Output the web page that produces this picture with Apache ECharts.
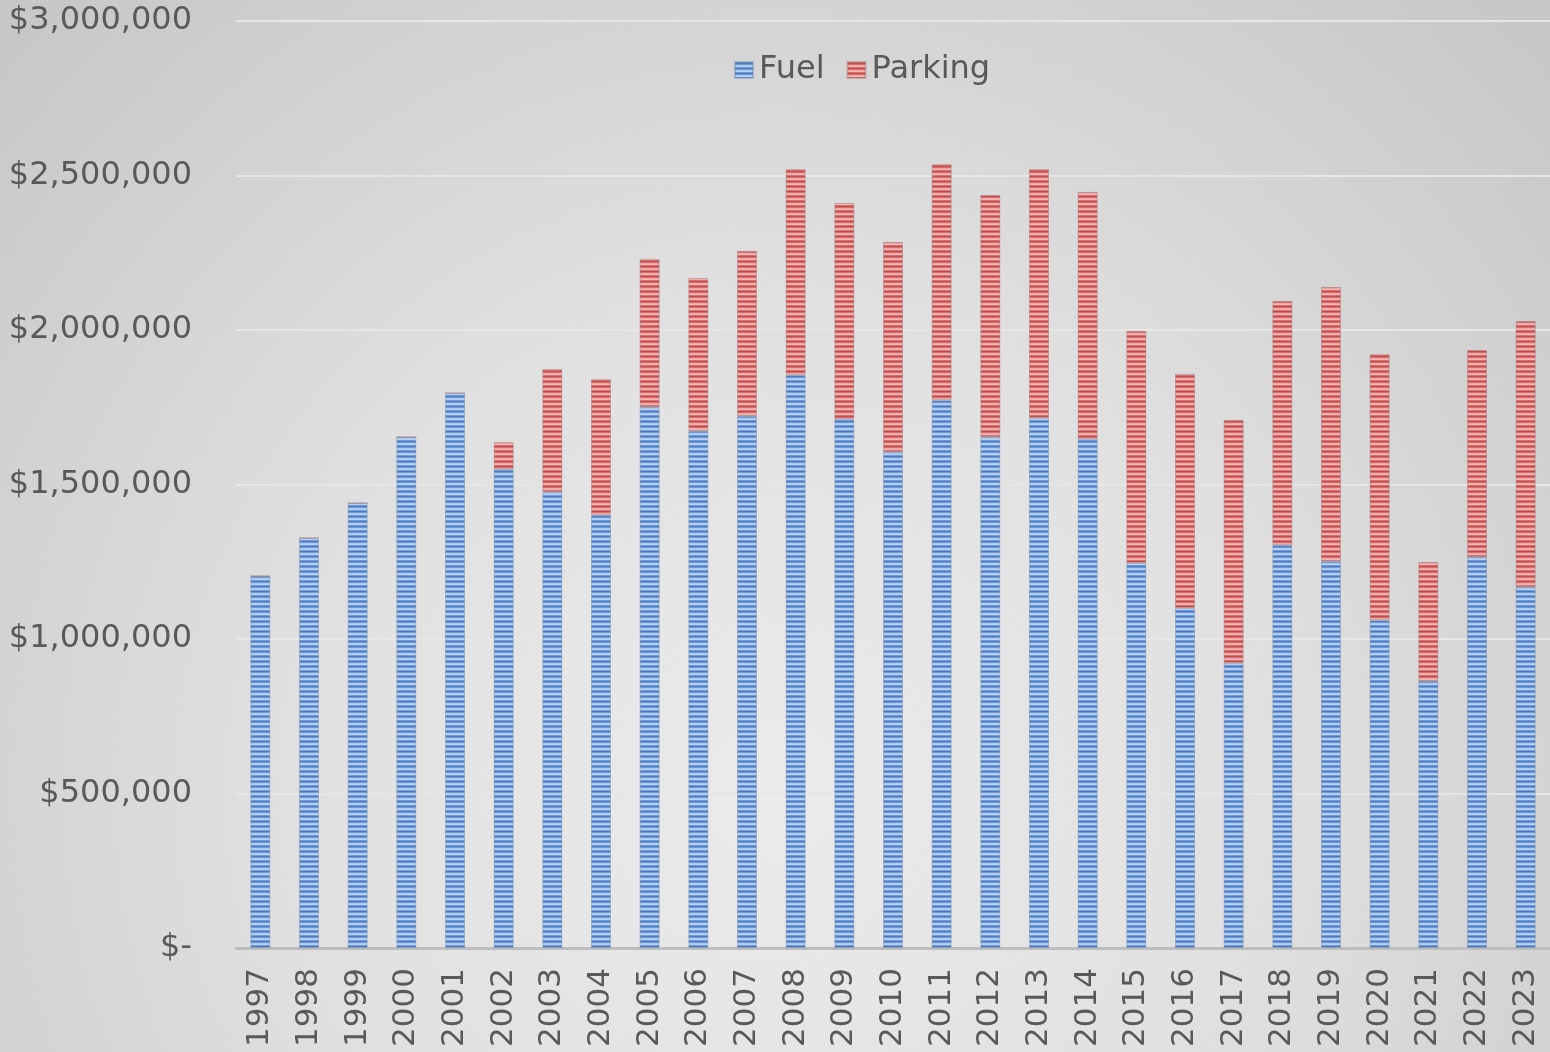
<!DOCTYPE html>
<html>
<head>
<meta charset="utf-8">
<script src="https://cdn.jsdelivr.net/npm/echarts@6/dist/echarts.min.js"></script>
<style>
  html, body { margin: 0; padding: 0; }
  body {
    width: 1550px; height: 1052px;
    background: radial-gradient(ellipse at 50% 75%, #ebebeb 0%, #e0e0e0 45%, #c6c6c6 100%);
  }
  #chart { width: 1550px; height: 1052px; }
</style>
</head>
<body>
<div id="chart"></div>
<script>
const years = ['1997','1998','1999','2000','2001','2002','2003','2004','2005','2006','2007','2008','2009','2010',
  '2011','2012','2013','2014','2015','2016','2017','2018','2019','2020','2021','2022','2023'];

const fuel = [1204000, 1327000, 1440000, 1654000, 1796000, 1550000, 1476000, 1401000, 1751000, 1673000,
  1722000, 1854000, 1712000, 1605000, 1773000, 1654000, 1715000, 1647000, 1246000, 1100000,
  922000, 1304000, 1252000, 1061000, 864000, 1265000, 1168000];

const parking = [0, 0, 0, 0, 0, 87000, 398000, 440000, 479000, 495000,
  534000, 667000, 699000, 680000, 764000, 783000, 806000, 800000, 751000, 758000,
  787000, 790000, 887000, 861000, 385000, 670000, 861000];

const yTicks = [0, 500000, 1000000, 1500000, 2000000, 2500000, 3000000];

// striped fill, like the horizontal-line pattern fill in the original (5px period)
function stripes(rows) {
  const c = document.createElement('canvas');
  c.width = 4; c.height = rows.length;
  const ctx = c.getContext('2d');
  rows.forEach((col, i) => {
    ctx.fillStyle = col;
    ctx.fillRect(0, i, 4, 1);
  });
  return { image: c, repeat: 'repeat' };
}

const fmt = v => v === 0 ? '$-' : '$' + v.toLocaleString('en-US');

const chart = echarts.init(document.getElementById('chart'));
const font = 'DejaVu Sans, Verdana, sans-serif';

chart.setOption({
  backgroundColor: 'transparent',
  textStyle: { fontFamily: font },
  legend: {
    top: 49,
    left: 729,
    icon: 'rect',
    itemWidth: 18,
    itemHeight: 16,
    itemGap: 22,
    textStyle: { fontSize: 32, color: '#595959', fontFamily: font, padding: [0, 0, 0, 1] },
    data: ['Fuel', 'Parking']
  },
  grid: { left: 236, right: 0, top: 21, bottom: 104 },
  xAxis: {
    type: 'category',
    data: years,
    axisLine: { lineStyle: { color: '#bdbdbd', width: 3 } },
    axisTick: { show: false },
    axisLabel: {
      rotate: 90,
      interval: 0,
      margin: 20,
      fontSize: 31,
      color: '#595959',
      fontFamily: font
    }
  },
  yAxis: {
    type: 'value',
    min: yTicks[0],
    max: yTicks[yTicks.length - 1],
    interval: 500000,
    axisLine: { show: false },
    axisTick: { show: false },
    splitLine: { lineStyle: { color: '#e6e6e6', width: 2 } },
    axisLabel: {
      formatter: fmt,
      margin: 44,
      fontSize: 32,
      color: '#595959',
      fontFamily: font
    }
  },
  series: [
    {
      name: 'Fuel',
      type: 'bar',
      stack: 'total',
      barWidth: 20,
      data: fuel,
      itemStyle: {
        color: stripes(['#6f9ad6', '#4a7cc6', '#6f9ad6', '#adc9ee', '#b8d1f0']),
        borderColor: 'rgba(110,130,160,0.4)', borderWidth: 1
      }
    },
    {
      name: 'Parking',
      type: 'bar',
      stack: 'total',
      barWidth: 20,
      data: parking,
      itemStyle: {
        color: stripes(['#d66f6d', '#c84a48', '#d66f6d', '#eaa9a7', '#efb8b6']),
        borderColor: 'rgba(150,110,110,0.4)', borderWidth: 1
      }
    }
  ]
});
</script>
</body>
</html>
